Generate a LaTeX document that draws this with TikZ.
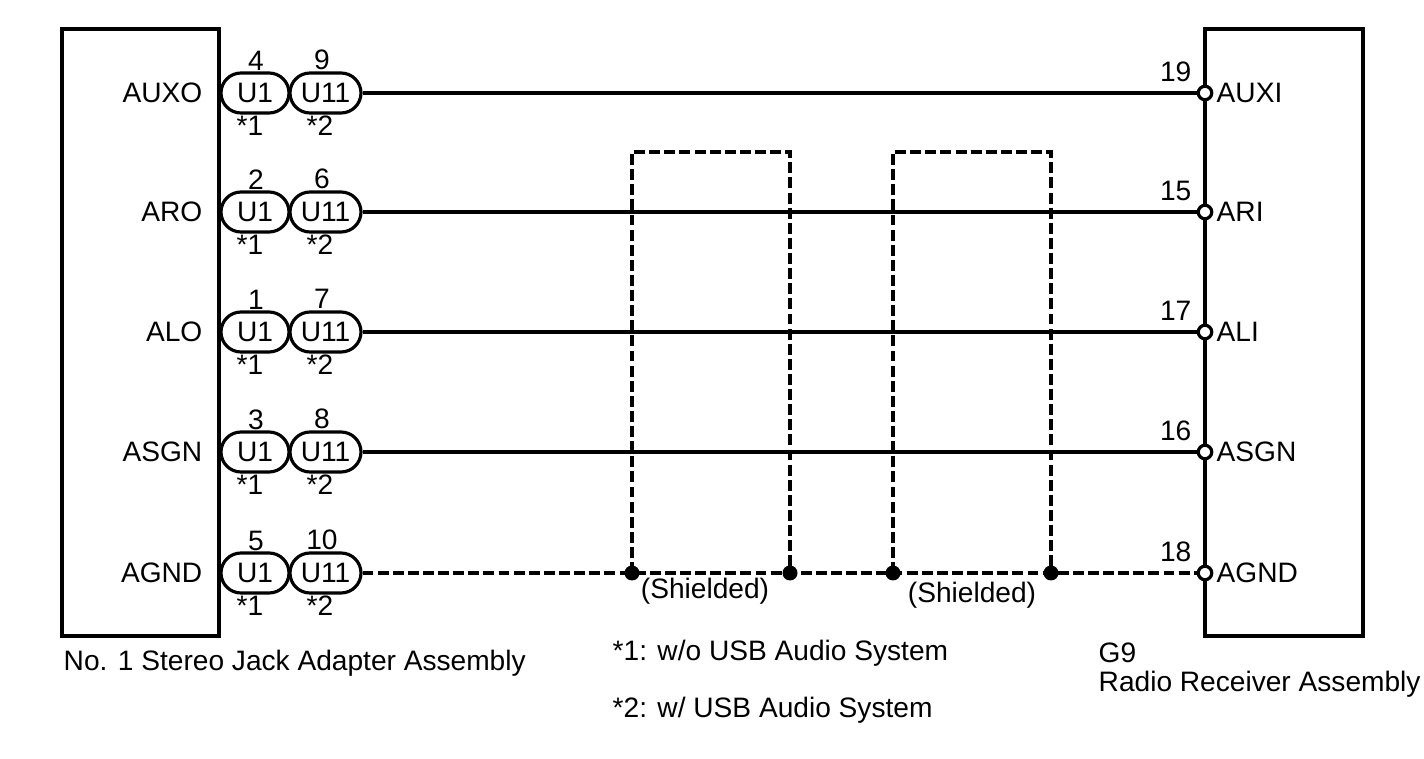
\documentclass[tikz,border=0pt]{standalone}
\usepackage{fontspec}
\setmainfont{Liberation Sans}
\usetikzlibrary{shapes.misc}
\newcommand{\lblfont}{\fontsize{8pt}{9.6pt}\selectfont}
\tikzset{
  boxstyle/.style={draw, line width=1.35pt, inner sep=0pt},
  wire/.style={line width=0.9pt},
  shieldline/.style={line width=0.9pt, dash pattern=on 3.1pt off 1.2pt},
  pill/.style={draw, rounded rectangle, line width=0.9pt, minimum height=4mm, inner sep=0pt, font=\lblfont},
  pinc/.style={circle, draw, fill=white, line width=0.9pt, minimum size=1.35mm, inner sep=0pt},
  jdot/.style={circle, fill, minimum size=1.5mm, inner sep=0pt},
  lbl/.style={font=\lblfont, inner sep=0pt}
}
\begin{document}
\begin{tikzpicture}[x=0.1mm,y=-0.1mm]
\useasboundingbox (0,0) rectangle (1424,759);
% boxes
\node[boxstyle, minimum width=15.7mm, minimum height=60.7mm] (L) at (140.5,332.5) {};
\node[boxstyle, minimum width=15.8mm, minimum height=60.7mm] (R) at (1284,332.5) {};
% rows
\foreach \i/\y/\ln/\na/\nb/\rn/\rl in {1/93/AUXO/4/9/19/AUXI, 2/212/ARO/2/6/15/ARI, 3/332/ALO/1/7/17/ALI, 4/452/ASGN/3/8/16/ASGN, 5/573/AGND/5/10/18/AGND}{
  \node[lbl, anchor=east] (ll\i) at (203,\y) {\ln};
  \node[pill, minimum width=6.8mm] (pa\i) at (255,\y) {U1};
  \node[pill, minimum width=7.1mm] (pb\i) at (325.5,\y) {U11};
  \node[lbl] (na\i) at (256,\y-32) {\na};
  \node[lbl] (nb\i) at (322,\y-33) {\nb};
  \node[lbl] (sa\i) at (250,\y+33) {*1};
  \node[lbl] (sb\i) at (320,\y+33) {*2};
  \node[pinc] (rp\i) at (1205,\y) {};
  \node[lbl, anchor=east] (rn\i) at (1192,\y-21) {\rn};
  \node[lbl, anchor=west] (rl\i) at (1216,\y) {\rl};
}
\foreach \i in {1,2,3,4}{
  \draw[wire] (pb\i.east) -- (rp\i.west);
}
\draw[shieldline] (pb5.east) -- (rp5.west);
% shields
\node[jdot] (d1) at (632,573) {};
\node[jdot] (d2) at (790,573) {};
\node[jdot] (d3) at (893,573) {};
\node[jdot] (d4) at (1051,573) {};
\coordinate (t1) at (632,152);
\coordinate (t2) at (790,152);
\coordinate (t3) at (893,152);
\coordinate (t4) at (1051,152);
\draw[shieldline] (d1.center) -- (t1) -- (t2) -- (d2.center);
\draw[shieldline] (d3.center) -- (t3) -- (t4) -- (d4.center);
\node[lbl] (sh1) at (705,591) {(Shielded)};
\node[lbl] (sh2) at (972,595) {(Shielded)};
% captions
\node[lbl, anchor=west] (capL) at (63,663) {No. 1 Stereo Jack Adapter Assembly};
\node[lbl, anchor=west] (n1) at (612,653) {*1: w/o USB Audio System};
\node[lbl, anchor=west] (n2) at (612,710) {*2: w/ USB Audio System};
\node[lbl, anchor=west] (g9) at (1098,653) {G9};
\node[lbl, anchor=west] (capR) at (1098,684) {Radio Receiver Assembly};
\end{tikzpicture}
\end{document}
